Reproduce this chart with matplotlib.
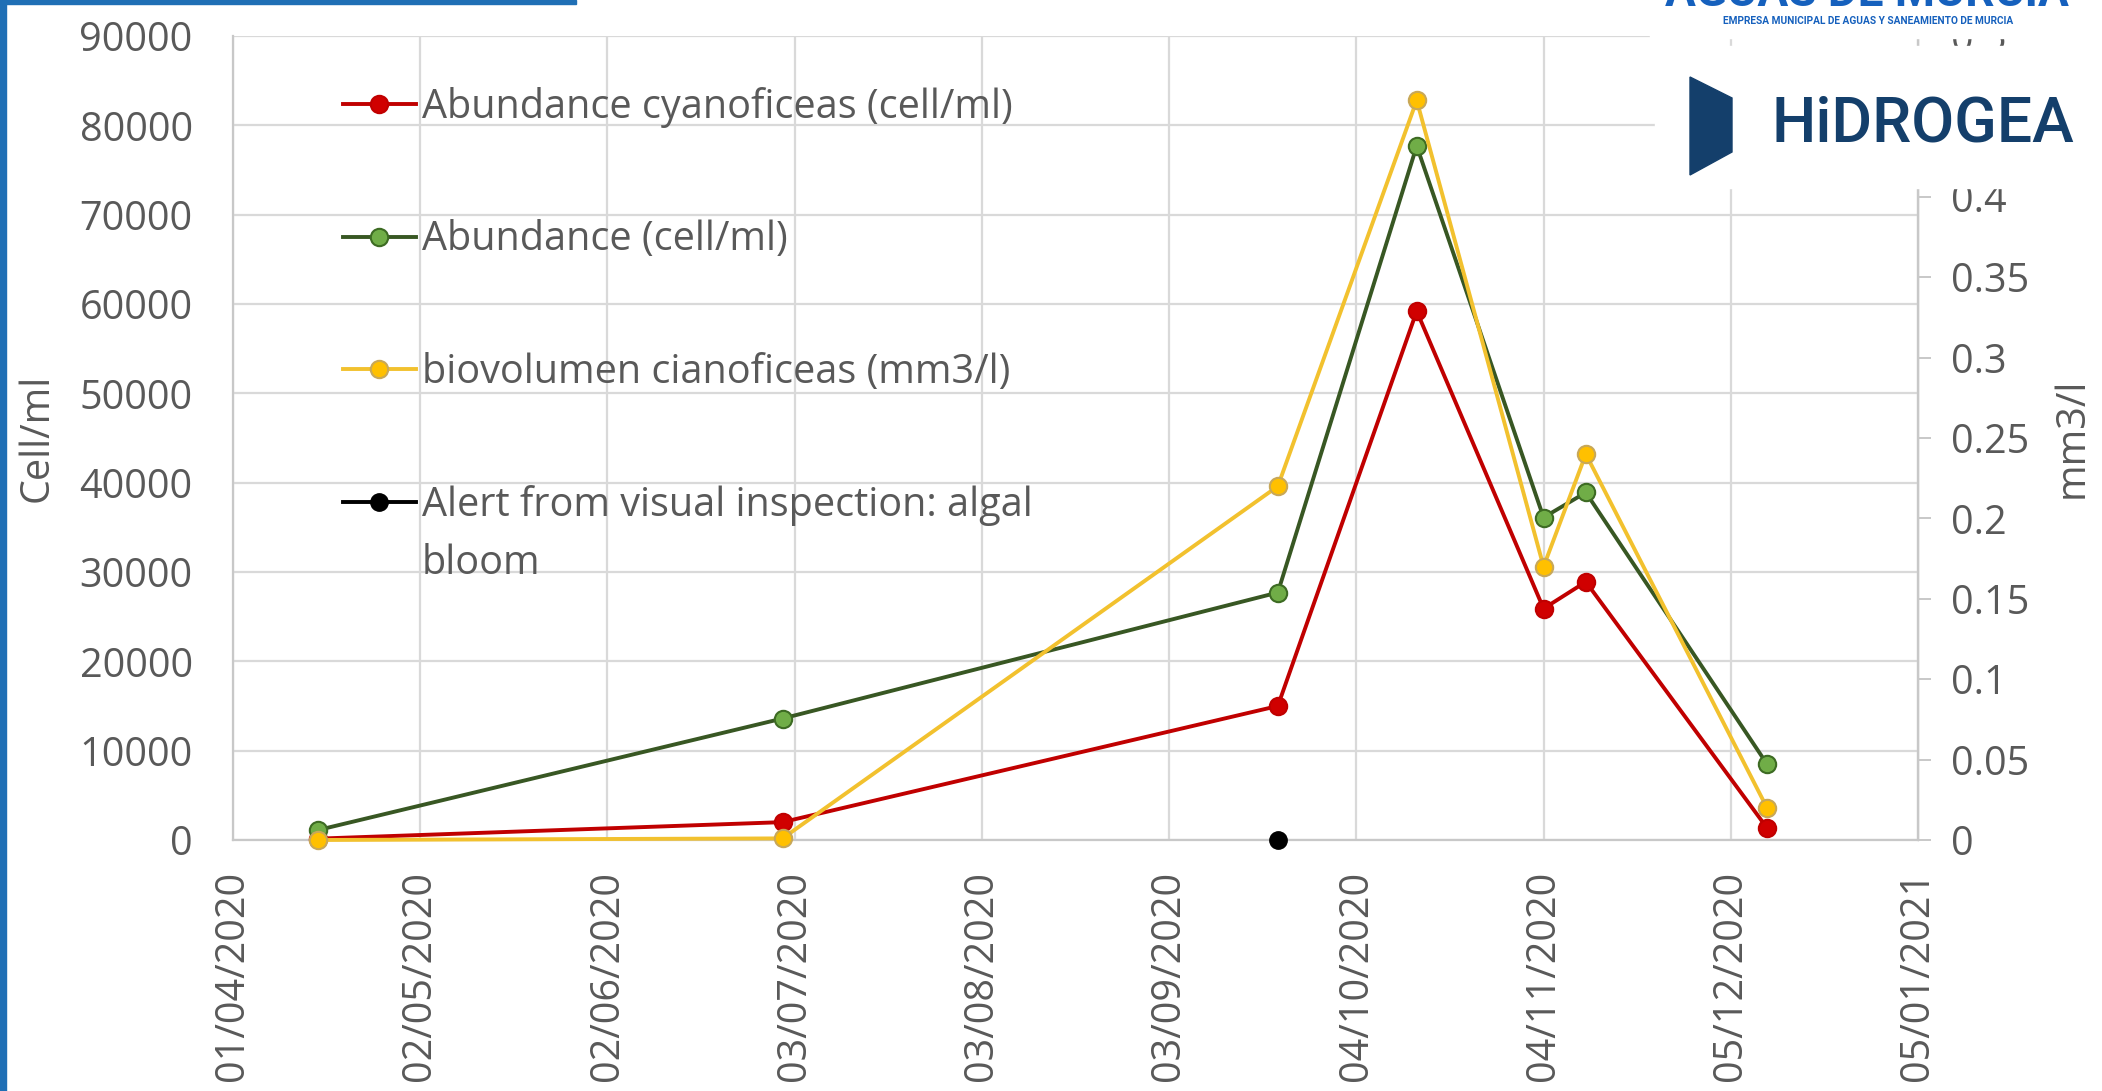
import matplotlib
matplotlib.use("Agg")
import matplotlib.pyplot as plt
import matplotlib.dates as mdates
import matplotlib.lines as mlines
from matplotlib.patches import Rectangle, Polygon
import pandas as pd

plt.rcParams['font.family'] = ['Open Sans', 'DejaVu Sans']

# data
dates = pd.to_datetime(['2020-04-15', '2020-07-01', '2020-09-21', '2020-10-14',
                        '2020-11-04', '2020-11-11', '2020-12-11'])
cyano = [150, 2000, 15000, 59200, 25900, 28900, 1350]          # cell/ml
abundance = [1100, 13600, 27700, 77700, 36100, 38900, 8500]     # cell/ml
biovol = [0.0, 0.001, 0.22, 0.46, 0.17, 0.24, 0.02]             # mm3/l
alert_dates = pd.to_datetime(['2020-09-21'])
alert_vals = [0]

labels = ['Abundance cyanoficeas (cell/ml)', 'Abundance (cell/ml)',
          'biovolumen cianoficeas (mm3/l)', 'Alert from visual inspection: algal']

x_start = pd.Timestamp('2020-04-01')
x_ticks = pd.date_range(x_start, periods=10, freq='31D')
left_ticks = list(range(0, 90001, 10000))
right_ticks = [0, 0.05, 0.1, 0.15, 0.2, 0.25, 0.3, 0.35, 0.4, 0.45, 0.5]

W, H = 2102, 1091
fig = plt.figure(figsize=(W / 100, H / 100), dpi=100)
fig.patch.set_facecolor('white')

L, R, B, T = 233, 1918, 840, 36
ax = fig.add_axes([L / W, 1 - B / H, (R - L) / W, (B - T) / H])
ax2 = ax.twinx()

grey = '#595959'
grid_c = '#d9d9d9'
fs = 28.5
lw, ms, mew = 2.8, 12.5, 1.5

ax.set_xlim(x_start, x_ticks[-1])
ax.set_ylim(0, 90000)
ax2.set_ylim(0, 0.5)

ax.set_xticks(x_ticks)
ax.xaxis.set_major_formatter(mdates.DateFormatter('%d/%m/%Y'))
ax.set_yticks(left_ticks)
ax.set_yticklabels([str(v) for v in left_ticks])
ax2.set_yticks(right_ticks)
ax2.set_yticklabels([f'{v:g}' for v in right_ticks])

ax.grid(True, color=grid_c, linewidth=1.6)
ax.set_axisbelow(True)
ax.spines['top'].set_visible(False)
ax2.spines['top'].set_visible(False)
for s in ['left', 'bottom']:
    ax.spines[s].set_color('#c8c8c8')
    ax.spines[s].set_linewidth(1.6)
ax2.spines['left'].set_visible(False)
ax2.spines['bottom'].set_visible(False)
ax2.spines['right'].set_color('#c8c8c8')
ax2.spines['right'].set_linewidth(1.6)

ax.tick_params(axis='y', length=0, pad=29, labelsize=fs, labelcolor=grey)
ax.tick_params(axis='x', length=0, pad=22, labelsize=fs, labelcolor=grey,
               labelrotation=90)
ax2.tick_params(axis='y', length=9, width=1.4, color='#c8c8c8', pad=15,
                labelsize=fs, labelcolor=grey)

ax.set_ylabel('Cell/ml', fontsize=fs, color=grey, labelpad=16)
ax2.set_ylabel('mm3/l', fontsize=fs, color=grey, rotation=90, labelpad=16)

h1, = ax.plot(dates, cyano, color='#c00000', lw=lw, marker='o', ms=ms,
              mfc='#d00000', mec='#c00000', mew=mew, clip_on=False, zorder=3)
h2, = ax.plot(dates, abundance, color='#385723', lw=lw, marker='o', ms=ms,
              mfc='#70ad47', mec='#3d6b23', mew=mew, clip_on=False, zorder=3)
h4, = ax.plot(alert_dates, alert_vals, color='black', lw=lw, marker='o',
              ms=ms, mfc='black', mec='black', linestyle='none',
              clip_on=False, zorder=4)
h3, = ax2.plot(dates, biovol, color='#f2c12e', lw=lw, marker='o', ms=ms,
               mfc='#ffc000', mec='#c8a858', mew=mew, clip_on=False, zorder=3)

# legend handle for the alert point has a line
h4_leg = mlines.Line2D([], [], color='black', lw=lw, marker='o', ms=ms)

leg = ax2.legend([h1, h2, h3, h4_leg], labels, loc='upper left',
                 bbox_to_anchor=(0.065, 0.937), frameon=False, fontsize=fs,
                 labelcolor=grey, borderpad=0, borderaxespad=0,
                 handlelength=1.85, handletextpad=0.15, labelspacing=2.33)
ax2.text(0.112, 0.344, 'bloom', transform=ax2.transAxes, fontsize=fs,
         color=grey, va='center', ha='left')

# slide frame
fig.patches.append(Rectangle((0, 0), 6 / W, 1, transform=fig.transFigure,
                             color='#1f6fb5', zorder=10))
fig.patches.append(Rectangle((0, 1 - 4 / H), 576 / W, 4 / H,
                             transform=fig.transFigure, color='#1f6fb5',
                             zorder=10))

# logos
fig.patches.append(Rectangle((1650 / W, 1 - 38 / H), (W - 1650) / W, 38 / H,
                             transform=fig.transFigure, color='white',
                             zorder=10))
fig.patches.append(Rectangle((1655 / W, 1 - 188 / H), (W - 1655) / W, 142 / H,
                             transform=fig.transFigure, color='white',
                             zorder=10))
fig.text(1867 / W, 1 - 6 / H, 'AGUAS DE MURCIA', fontsize=33,
         fontweight='bold', color='#1560bd', ha='center', va='baseline',
         family='Roboto', zorder=11)
fig.text(1868 / W, 1 - 21 / H,
         'EMPRESA MUNICIPAL DE AGUAS Y SANEAMIENTO DE MURCIA', fontsize=7.3,
         fontweight='bold', color='#1560bd', ha='center', va='center',
         family='Roboto', zorder=11)
fig.patches.append(Polygon([(1690 / W, 1 - 77 / H), (1732 / W, 1 - 98 / H),
                            (1732 / W, 1 - 152 / H), (1690 / W, 1 - 175 / H)],
                           closed=True, transform=fig.transFigure,
                           color='#143f6b', zorder=11))
fig.text(1771 / W, 1 - 125 / H, 'HiDROGEA', fontsize=45, fontweight='medium',
         color='#143f6b', ha='left', va='center', family='Roboto', zorder=11)

fig.savefig('out.png', dpi=100)
